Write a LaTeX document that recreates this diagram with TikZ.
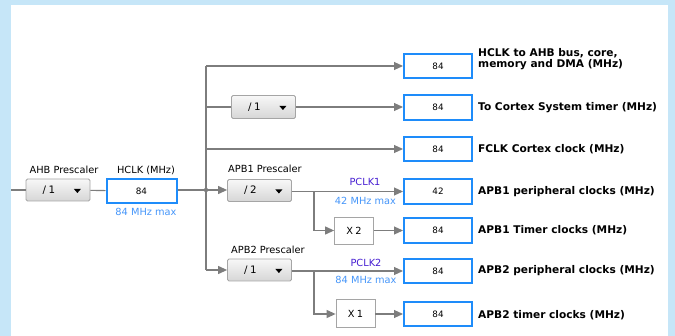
\documentclass[tikz,border=0pt]{standalone}
\usepackage{fontspec}
\setmainfont{DejaVu Sans}
\usetikzlibrary{arrows.meta}
\definecolor{bgblue}{RGB}{198,230,248}
\definecolor{boxblue}{RGB}{30,140,250}
\definecolor{linegray}{RGB}{125,125,125}
\definecolor{maxblue}{RGB}{70,150,250}
\definecolor{pclkcol}{RGB}{70,30,210}
\definecolor{ddborder}{RGB}{165,165,165}
\begin{document}
\begin{tikzpicture}[x=1pt,y=-1pt,
  conn/.style={draw=linegray, line width=1.1pt},
  arr/.style={conn, -{Triangle[length=9pt,width=8pt]}},
  outbox/.style={draw=boxblue, line width=2pt, fill=white, minimum width=68pt, minimum height=24.5pt, inner sep=0pt, font=\fontsize{8.8}{10}\selectfont},
  xbox/.style={draw=ddborder, line width=0.8pt, fill=white, minimum width=39pt, minimum height=27pt, inner sep=0pt, font=\fontsize{9.8}{11}\selectfont},
  dd/.style={draw=ddborder, line width=0.8pt, rounded corners=1.5pt, top color=white!97!black, bottom color=white!84!black, minimum width=64pt, minimum height=22pt, inner sep=0pt},
  ddtext/.style={inner sep=0pt, font=\fontsize{10.3}{12}\selectfont},
  lbl/.style={inner sep=0pt, font=\fontsize{9.8}{11}\selectfont},
  maxlbl/.style={lbl, text=maxblue},
  pclk/.style={lbl, text=pclkcol},
  outlbl/.style={inner sep=0pt, anchor=west, align=left, font=\fontsize{10.6}{11}\selectfont\bfseries}
]
% background
\fill[bgblue] (0,0) rectangle (675,336);
\fill[white] (11,5) rectangle (668,336);

% dropdown helper: triangle
\newcommand{\ddarrow}[1]{\fill[black] ([xshift=-13pt,yshift=1pt]#1.east) ++(-3.5,0) -- ++(7,0) -- ++(-3.5,4) -- cycle;}

% nodes
\coordinate (in) at (11,190);
\node[dd] (ahb) at (58,190) {};
\node[ddtext] (ahbt) at ([xshift=-9pt]ahb.center) {/\hspace{2.5pt}1};
\ddarrow{ahb}
\node[lbl] (ahbl) at (64,170) {AHB Prescaler};

\node[outbox,minimum width=70pt] (hclk) at (141.5,191) {84};
\node[lbl] (hclkl) at (146,170) {HCLK (MHz)};
\node[maxlbl] (hclkm) at (146,212) {84 MHz max};

\coordinate (dot) at (206,190);
\coordinate (top) at (206,66);
\coordinate (r2) at (206,107);
\coordinate (r3) at (206,149);
\coordinate (r6) at (206,270);

\node[dd,minimum height=23pt] (sys) at (263.5,107) {};
\node[ddtext] (syst) at ([xshift=-9pt]sys.center) {/\hspace{2.5pt}1};
\ddarrow{sys}

\node[dd] (apb1) at (259.5,190.5) {};
\node[ddtext] (apb1t) at ([xshift=-9pt]apb1.center) {/\hspace{2.5pt}2};
\ddarrow{apb1}
\node[lbl] (apb1l) at (265,169) {APB1 Prescaler};

\node[dd] (apb2) at (259.5,270) {};
\node[ddtext] (apb2t) at ([xshift=-9pt]apb2.center) {/\hspace{2.5pt}1};
\ddarrow{apb2}
\node[lbl] (apb2l) at (268,250) {APB2 Prescaler};

\node[xbox] (x2) at (354,230.5) {X\hspace{2.5pt}2};
\node[xbox,minimum height=28pt] (x1) at (355.5,313.5) {X\hspace{2.5pt}1};

\node[outbox] (o1) at (438,66) {84};
\node[outbox] (o2) at (438,107.5) {84};
\node[outbox] (o3) at (438,149) {84};
\node[outbox] (o4) at (438,191.5) {42};
\node[outbox] (o5) at (438,230.5) {84};
\node[outbox] (o6) at (438,271) {84};
\node[outbox] (o7) at (438,314) {84};

\node[outlbl,anchor=north west] (l1) at (478,48.5) {HCLK to AHB bus, core,\\memory and DMA (MHz)};
\node[outlbl] (l2) at (478,108) {To Cortex System timer (MHz)};
\node[outlbl] (l3) at (478,149) {FCLK Cortex clock (MHz)};
\node[outlbl] (l4) at (478,192) {APB1 peripheral clocks (MHz)};
\node[outlbl] (l5) at (478,230.5) {APB1 Timer clocks (MHz)};
\node[outlbl] (l6) at (478,271) {APB2 peripheral clocks (MHz)};
\node[outlbl] (l7) at (478,315) {APB2 timer clocks (MHz)};

\node[pclk] (p1) at (365,182) {PCLK1};
\node[maxlbl] (m1) at (365.5,201) {42 MHz max};
\node[pclk] (p2) at (366,263) {PCLK2};
\node[maxlbl] (m2) at (366,279.5) {84 MHz max};

% connectors
\draw[conn] (in) -- (ahb);
\draw[conn] (ahb) -- (hclk);
\draw[conn] (hclk.east |- dot) -- (dot);
\draw[conn] (top) -- (r6);
\draw[arr] (top) -- (o1);
\draw[conn] (r2) -- (sys.west |- r2);
\draw[arr] (sys.east |- r2) -- (o2.west |- r2);
\draw[arr] (r3) -- (o3.west |- r3);
\draw[arr] (dot) -- (apb1.west |- dot);
\draw[arr] (r6) -- (apb2.west |- r6);
\fill[linegray] (dot) circle (2.2pt);
\coordinate (b1) at (314,191.5);
\coordinate (b2) at (314,271);
\draw[arr] (apb1.east |- b1) -- (o4.west |- b1);
\draw[arr] (b1) |- (x2);
\draw[arr] (x2) -- (o5);
\draw[arr] (apb2.east |- b2) -- (o6.west |- b2);
\draw[arr] (b2) |- (x1.west |- o7);
\draw[arr] (x1.east |- o7) -- (o7);
\end{tikzpicture}
\end{document}
